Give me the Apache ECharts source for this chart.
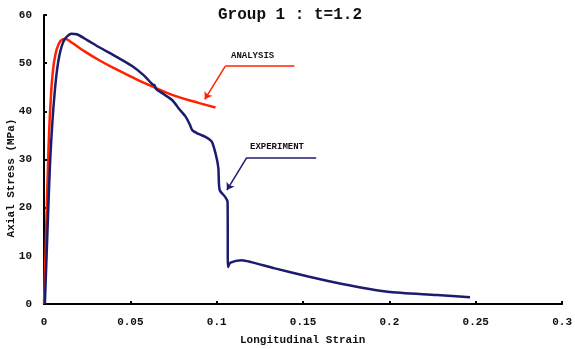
<!DOCTYPE html>
<html><head><meta charset="utf-8">
<script src="https://cdn.jsdelivr.net/npm/echarts@6/dist/echarts.min.js"></script>
<style>html,body{margin:0;padding:0;background:#fff}#c{width:575px;height:349px}</style>
</head><body><div id="c"></div>
<script>
var xTicks = [0, 0.05, 0.1, 0.15, 0.2, 0.25, 0.3];
var yTicks = [0, 10, 20, 30, 40, 50, 60];
var titleText = 'Group 1 : t=1.2';
var xName = 'Longitudinal Strain';
var yName = 'Axial Stress (MPa)';

var analysis = [[0,0],[0.001,12],[0.002,25],[0.003,36],[0.004,43],[0.005,47.8],[0.0065,51.6],[0.0085,54],[0.0105,54.9],[0.012,55],[0.016,54.3],[0.022,52.8],[0.032,50.6],[0.042,48.7],[0.051,47.1],[0.058,45.9],[0.065,44.8],[0.075,43.3],[0.09,41.7],[0.0993,40.8]];

var experiment = [[0.0005,0],[0.0015,10],[0.0025,20],[0.0036,30],[0.0049,38],[0.0062,44],[0.0077,49],[0.0097,52.8],[0.0122,55.1],[0.0158,56.1],[0.019,56],[0.025,54.8],[0.032,53.3],[0.042,51.3],[0.051,49.4],[0.058,47.4],[0.0628,45.6],[0.064,45.4],[0.065,44.6],[0.07,43.4],[0.0743,42.3],[0.078,40.6],[0.082,38.9],[0.0845,37.2],[0.0858,36.1],[0.0895,35.3],[0.0935,34.7],[0.097,33.8],[0.0983,32.6],[0.1002,29.9],[0.101,28],[0.1017,23.7],[0.105,22.2],[0.1063,21.2],[0.1065,7.7],[0.108,8.6],[0.1146,9.1],[0.12,8.7],[0.1337,7.4],[0.153,5.7],[0.172,4.2],[0.1989,2.55],[0.2276,1.87],[0.2467,1.4]];

var analysisArrow = [[0.145,49.4],[0.105,49.4],[0.0931,42.5]];
var experimentArrow = [[0.1576,30.4],[0.1174,30.4],[0.1059,23.65]];

var RED = '#ff2200', BLUE = '#1c1c6e';
var mono = '"Liberation Mono", "DejaVu Sans Mono", monospace';

function arrowData(p){
  return [
    [{coord:p[0], symbol:'none'},{coord:p[1], symbol:'none'}],
    [{coord:p[1], symbol:'none'},{coord:p[2], symbol:'arrow', symbolSize:7}]
  ];
}

var chart = echarts.init(document.getElementById('c'), null, {renderer:'canvas'});
chart.setOption({
  animation:false,
  backgroundColor:'#fff',
  grid:{left:44,right:9,top:15,bottom:45},
  xAxis:{type:'value',min:0,max:0.3,interval:0.05,
    axisLine:{show:true,onZero:false,lineStyle:{color:'#000',width:2}},
    axisTick:{show:true,inside:true,length:3,lineStyle:{color:'#000',width:2}},
    axisLabel:{margin:13,color:'#111',fontFamily:mono,fontWeight:'bold',fontSize:11,
      formatter:function(v){return String(parseFloat(v.toFixed(2)));}},
    splitLine:{show:false}},
  yAxis:{type:'value',min:0,max:60,interval:10,
    axisLine:{show:true,onZero:false,lineStyle:{color:'#000',width:2}},
    axisTick:{show:true,inside:true,length:3,lineStyle:{color:'#000',width:2}},
    axisLabel:{margin:12,color:'#111',fontFamily:mono,fontWeight:'bold',fontSize:11},
    splitLine:{show:false}},
  graphic:[
    {type:'text',left:218,top:7,style:{text:titleText,font:'bold 16px '+mono,fill:'#111'}},
    {type:'text',left:240,top:335,style:{text:xName,font:'bold 11px '+mono,fill:'#111'}},
    {type:'text',x:11,y:178,rotation:Math.PI/2,style:{text:yName,font:'bold 11px '+mono,fill:'#111',align:'center',verticalAlign:'middle'}},
    {type:'text',left:231,top:51,style:{text:'ANALYSIS',font:'bold 9px '+mono,fill:'#111'}},
    {type:'text',left:250,top:142,style:{text:'EXPERIMENT',font:'bold 9px '+mono,fill:'#111'}}
  ],
  series:[
    {type:'line',name:'Analysis',data:analysis,smooth:0.5,showSymbol:false,
      lineStyle:{color:RED,width:2.5},
      markLine:{silent:true,animation:false,label:{show:false},
        lineStyle:{color:RED,width:1.5,type:'solid'},data:arrowData(analysisArrow)}},
    {type:'line',name:'Experiment',data:experiment,smooth:0.25,showSymbol:false,
      lineStyle:{color:BLUE,width:2.5},
      markLine:{silent:true,animation:false,label:{show:false},
        lineStyle:{color:BLUE,width:1.5,type:'solid'},data:arrowData(experimentArrow)}}
  ]
});
</script></body></html>
